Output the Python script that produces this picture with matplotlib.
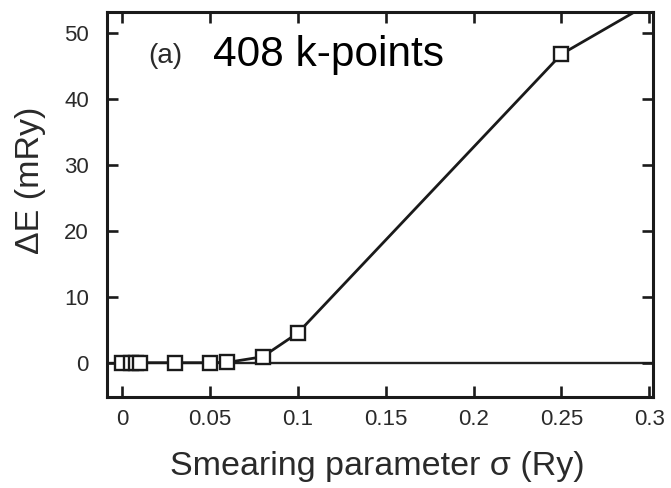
import matplotlib
matplotlib.use("Agg")
import matplotlib.pyplot as plt

plt.rcParams['font.family'] = ['Liberation Sans', 'DejaVu Sans']

# data
sigma = [0.0, 0.005, 0.008, 0.01, 0.03, 0.05, 0.06, 0.08, 0.1, 0.25]
delta_e = [0.0, 0.0, 0.0, 0.0, 0.0, 0.0, 0.05, 0.9, 4.5, 46.8]
# line keeps going past the last marker, clipped at the frame
sigma_tail = [0.25, 0.3]
delta_e_tail = [46.8, 54.5]

fig = plt.figure(figsize=(6.71, 4.88), dpi=100)
ax = fig.add_axes([0.1595, 0.1865, 0.8135, 0.789])

ax.axhline(0, color="#222222", lw=1.7, zorder=1)
ax.plot(sigma + sigma_tail[1:], delta_e + delta_e_tail[1:], color="#1a1a1a", lw=2.0, zorder=2)
ax.plot(sigma, delta_e, ls="none", marker="s", ms=9.5, mfc="white", mec="#1a1a1a",
        mew=1.7, zorder=3)

ax.set_xlim(-0.0085, 0.302)
ax.set_ylim(-5.2, 53.2)
ax.set_xticks([0, 0.05, 0.1, 0.15, 0.2, 0.25, 0.3])
ax.set_xticklabels(["0", "0.05", "0.1", "0.15", "0.2", "0.25", "0.3"])
ax.set_yticks([0, 10, 20, 30, 40, 50])

for s in ax.spines.values():
    s.set_linewidth(2.2)
    s.set_color("#1a1a1a")
ax.tick_params(direction="in", length=8, width=1.9, top=True, right=True,
               labelsize=16, labelcolor="#2a2a2a", color="#1a1a1a")
ax.tick_params(axis="y", pad=13)
ax.tick_params(axis="x", pad=9)

ax.set_xlabel("Smearing parameter σ (Ry)", fontsize=24.5, color="#2a2a2a")
ax.xaxis.set_label_coords(0.4954, -0.14)
ax.set_ylabel("ΔE (mRy)", fontsize=24.5, color="#2a2a2a")
ax.yaxis.set_label_coords(-0.112, 0.564)

ax.text(0.075, 0.885, "(a)", transform=ax.transAxes, fontsize=20, color="#2a2a2a",
        va="center", ha="left")
ax.text(0.194, 0.887, "408 k-points", transform=ax.transAxes, fontsize=30.5, color="black",
        va="center", ha="left")

fig.savefig("out.png", dpi=100)
